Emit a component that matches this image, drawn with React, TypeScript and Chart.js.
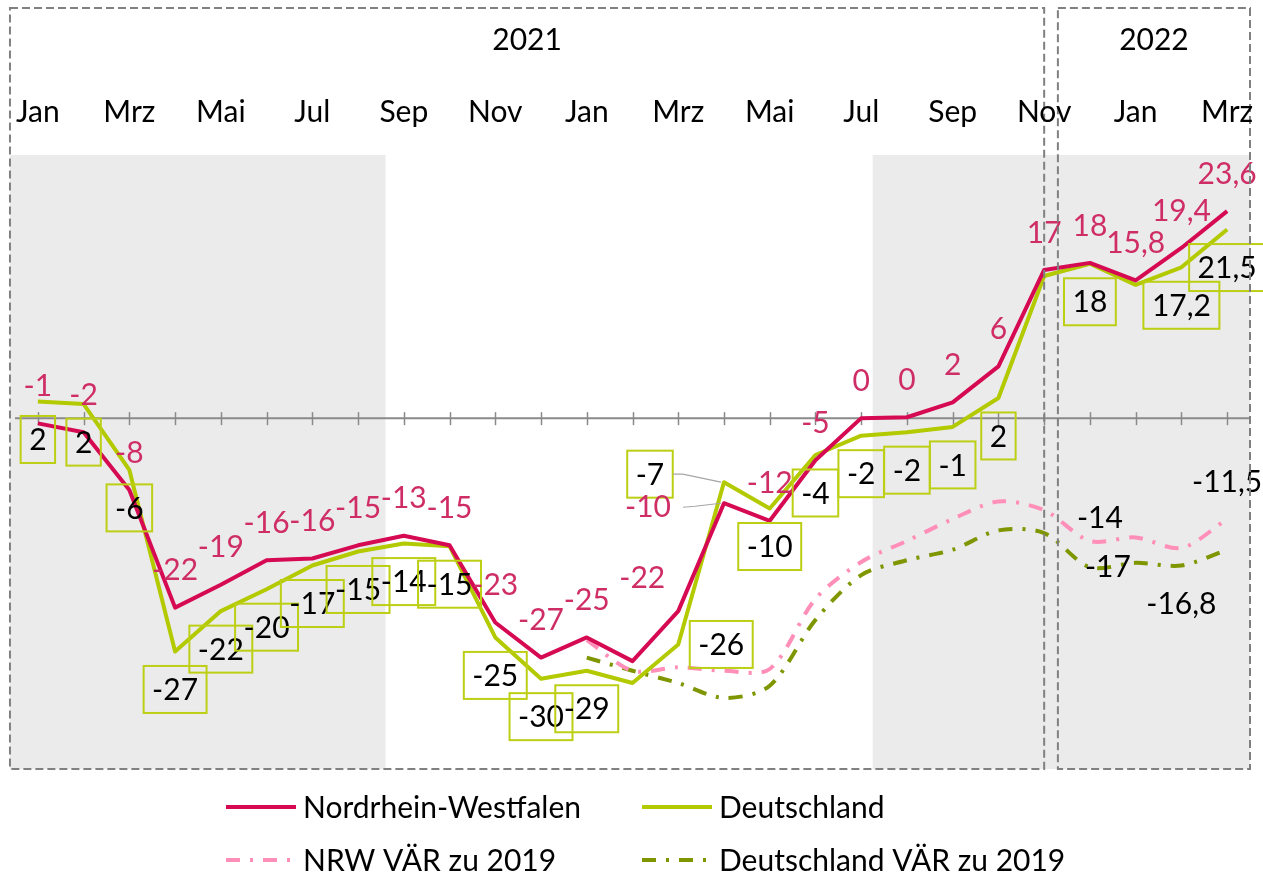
import React, { useEffect, useRef } from "react";
import { Chart, registerables } from "chart.js";

Chart.register(...registerables);

// ---------- data ----------
const months = [
  "Jan", "Feb", "Mrz", "Apr", "Mai", "Jun", "Jul", "Aug", "Sep", "Okt", "Nov", "Dez",
  "Jan", "Feb", "Mrz", "Apr", "Mai", "Jun", "Jul", "Aug", "Sep", "Okt", "Nov", "Dez",
  "Jan", "Feb", "Mrz",
];
const shownMonthTicks = [0, 2, 4, 6, 8, 10, 12, 14, 16, 18, 20, 22, 24, 26];
const years = ["2021", "2022"];

const nrwValues = [
  -0.6, -1.6, -8.2, -21.6, -19.0, -16.2, -16.0, -14.5, -13.4, -14.5, -23.3, -27.3, -25.0,
  -27.7, -22.0, -9.7, -11.7, -4.8, 0.0, 0.1, 1.8, 5.9, 16.9, 17.7, 15.7, 19.4, 23.6,
];
const nrwLabels = [
  "-1", "-2", "-8", "-22", "-19", "-16", "-16", "-15", "-13", "-15", "-23", "-27", "-25",
  null, "-22", "-10", "-12", "-5", "0", "0", "2", "6", "17", "18", "15,8", "19,4", "23,6",
];

const deValues = [
  1.9, 1.6, -5.9, -26.6, -22.0, -19.5, -16.8, -15.2, -14.3, -14.6, -25.0, -29.7, -28.8,
  -30.2, -25.8, -7.3, -10.3, -4.2, -2.0, -1.6, -1.0, 2.3, 16.2, 17.6, 15.2, 17.2, 21.5,
];
const deLabels = [
  "2", "2", "-6", "-27", "-22", "-20", "-17", "-15", "-14", "-15", "-25", "-30", "-29",
  null, "-26", "-7", "-10", "-4", "-2", "-2", "-1", "2", null, "18", null, "17,2", "21,5",
];

const nrwVarValues = [
  null, null, null, null, null, null, null, null, null, null, null, null, -25.3,
  -28.8, -28.4, -28.8, -28.6, -20.6, -16.4, -14.0, -11.5, -9.5, -10.5, -14.0, -13.6, -14.8, -11.5,
];
const nrwVarLabels = [
  null, null, null, null, null, null, null, null, null, null, null, null, null,
  null, null, null, null, null, null, null, null, null, null, "-14", null, null, "-11,5",
];

const deVarValues = [
  null, null, null, null, null, null, null, null, null, null, null, null, -27.3,
  -28.8, -30.2, -31.9, -30.5, -23.0, -17.9, -16.2, -15.0, -12.8, -13.1, -17.0, -16.5, -16.8, -15.0,
];
const deVarLabels = [
  null, null, null, null, null, null, null, null, null, null, null, null, null,
  null, null, null, null, null, null, null, null, null, null, "-17", null, "-16,8", null,
];

const seriesNames = ["Nordrhein-Westfalen", "Deutschland", "NRW VÄR zu 2019", "Deutschland VÄR zu 2019"];

// ---------- styles / layout ----------
const RED = "#d60a52";
const RED_TEXT = "#cf2d66";
const GREEN = "#b3c900";
const GREEN_BOX = "#bccf14";
const PINK = "#ff8fb8";
const OLIVE = "#7f9600";
const FONT = "Lato, 'Open Sans', sans-serif";
const FS = 30;

// label offsets (dx, dy) in px relative to point
const redOffsets: Record<number, [number, number]> = { 14: [-36, -33], 15: [-76, 4] };
const greenOffsets: Record<number, [number, number]> = { 14: [43, 0], 15: [-74, -8] };
const nrwVarOffsets: Record<number, [number, number]> = { 23: [10, -23], 26: [0, -37] };
const deVarOffsets: Record<number, [number, number]> = { 23: [18, 0], 25: [0, 39] };
const leaderIdx = [15];

// decorative bands (in category index units)
const shadeBands: [number, number][] = [[-0.61, 7.6], [18.25, 26.5]];
const yearBoxes: [number, number][] = [[-0.61, 22.0], [22.3, 26.5]];

const deco = {
  id: "deco",
  beforeDatasetsDraw(chart: any) {
    const { ctx, chartArea, scales } = chart;
    const x = scales.x;
    const y = scales.y;
    ctx.save();
    ctx.fillStyle = "#ebebeb";
    for (const [a, b] of shadeBands) {
      const x0 = x.getPixelForValue(a);
      const x1 = x.getPixelForValue(b);
      ctx.fillRect(x0, chartArea.top, x1 - x0, chartArea.bottom - chartArea.top);
    }
    // zero axis
    const y0 = y.getPixelForValue(0);
    ctx.strokeStyle = "#8a8a8a";
    ctx.lineWidth = 2;
    ctx.beginPath();
    ctx.moveTo(chartArea.left, y0);
    ctx.lineTo(chartArea.right, y0);
    ctx.stroke();
    ctx.lineWidth = 1.5;
    for (let i = 0; i < months.length; i++) {
      const px = Math.round(x.getPixelForValue(i)) + 0.5;
      ctx.beginPath();
      ctx.moveTo(px, y0 - 6);
      ctx.lineTo(px, y0 + 7);
      ctx.stroke();
    }
    ctx.restore();
  },
  afterDatasetsDraw(chart: any) {
    const { ctx, chartArea, scales } = chart;
    const x = scales.x;
    const y = scales.y;
    ctx.save();
    ctx.font = `${FS}px ${FONT}`;
    ctx.textAlign = "center";
    ctx.textBaseline = "middle";

    // green (Deutschland) boxed labels
    deLabels.forEach((lab, i) => {
      if (lab == null) return;
      const px = x.getPixelForValue(i);
      const py = y.getPixelForValue(deValues[i]);
      const [dx, dy] = greenOffsets[i] || [0, 38];
      const lx = px + dx;
      const ly = py + dy;
      const w = ctx.measureText(lab).width + 17;
      const h = 47;
      ctx.strokeStyle = GREEN_BOX;
      ctx.lineWidth = 2;
      ctx.strokeRect(lx - w / 2, ly - h / 2, w, h);
      ctx.fillStyle = "#000";
      ctx.fillText(lab, lx, ly + 1);
      if (leaderIdx.includes(i)) {
        ctx.strokeStyle = "#a6a6a6";
        ctx.lineWidth = 1.2;
        ctx.beginPath();
        ctx.moveTo(lx + w / 2, ly);
        ctx.lineTo(lx + w / 2 + 10, ly);
        ctx.lineTo(px - 3, py);
        ctx.stroke();
      }
    });

    // red (NRW) labels
    nrwLabels.forEach((lab, i) => {
      if (lab == null) return;
      const px = x.getPixelForValue(i);
      const py = y.getPixelForValue(nrwValues[i]);
      const [dx, dy] = redOffsets[i] || [0, -37];
      const lx = px + dx;
      const ly = py + dy;
      ctx.fillStyle = RED_TEXT;
      ctx.fillText(lab, lx, ly);
      if (leaderIdx.includes(i)) {
        const w = ctx.measureText(lab).width;
        ctx.strokeStyle = "#a6a6a6";
        ctx.lineWidth = 1.2;
        ctx.beginPath();
        ctx.moveTo(lx + w / 2 + 12, ly);
        ctx.lineTo(lx + w / 2 + 24, ly - 1);
        ctx.lineTo(px - 3, py);
        ctx.stroke();
      }
    });

    // VÄR labels
    const varSets: [typeof nrwVarLabels, typeof nrwVarValues, Record<number, [number, number]>][] = [
      [nrwVarLabels, nrwVarValues, nrwVarOffsets],
      [deVarLabels, deVarValues, deVarOffsets],
    ];
    for (const [labs, vals, offs] of varSets) {
      labs.forEach((lab, i) => {
        if (lab == null || vals[i] == null) return;
        const px = x.getPixelForValue(i);
        const py = y.getPixelForValue(vals[i] as number);
        const [dx, dy] = offs[i] || [0, -37];
        ctx.fillStyle = "#000";
        ctx.fillText(lab, px + dx, py + dy);
      });
    }

    // year boxes (dashed)
    ctx.strokeStyle = "#808080";
    ctx.lineWidth = 2;
    ctx.setLineDash([8, 4]);
    yearBoxes.forEach(([a, b], k) => {
      const x0 = x.getPixelForValue(a);
      const x1 = x.getPixelForValue(b);
      ctx.strokeRect(x0, 8, x1 - x0, chartArea.bottom - 8);
      ctx.fillStyle = "#000";
      ctx.fillText(years[k], (x0 + x1) / 2, 40);
    });
    ctx.setLineDash([]);

    // month labels
    ctx.fillStyle = "#000";
    for (const i of shownMonthTicks) {
      ctx.fillText(months[i], x.getPixelForValue(i), 112);
    }

    // legend
    const legendItems = [
      { name: seriesNames[0], color: RED, dash: [] as number[], col: 0, row: 0 },
      { name: seriesNames[1], color: GREEN, dash: [] as number[], col: 1, row: 0 },
      { name: seriesNames[2], color: PINK, dash: [14, 10, 3, 10], col: 0, row: 1 },
      { name: seriesNames[3], color: OLIVE, dash: [14, 10, 3, 10], col: 1, row: 1 },
    ];
    const colX = [226, 642];
    const rowY = [807, 860];
    ctx.textAlign = "left";
    for (const it of legendItems) {
      const lx = colX[it.col];
      const ly = rowY[it.row];
      ctx.strokeStyle = it.color;
      ctx.lineWidth = 4;
      ctx.setLineDash(it.dash);
      ctx.beginPath();
      ctx.moveTo(lx, ly);
      ctx.lineTo(lx + 70, ly);
      ctx.stroke();
      ctx.setLineDash([]);
      ctx.fillStyle = "#000";
      ctx.fillText(it.name, lx + 77, ly + 1);
    }
    ctx.restore();
  },
};

export default function App() {
  const ref = useRef<HTMLCanvasElement>(null);
  useEffect(() => {
    if (!ref.current) return;
    const chart = new Chart(ref.current, {
      type: "line",
      data: {
        labels: months,
        datasets: [
          { label: seriesNames[0], data: nrwValues, borderColor: RED, borderWidth: 4, tension: 0 },
          { label: seriesNames[1], data: deValues, borderColor: GREEN, borderWidth: 4, tension: 0 },
          {
            label: seriesNames[2], data: nrwVarValues as any, borderColor: PINK, borderWidth: 4,
            borderDash: [14, 10, 3, 10], tension: 0.3,
          },
          {
            label: seriesNames[3], data: deVarValues as any, borderColor: OLIVE, borderWidth: 4,
            borderDash: [14, 10, 3, 10], tension: 0.3,
          },
        ],
      },
      options: {
        responsive: false,
        animation: false,
        devicePixelRatio: 1,
        layout: { padding: { left: 15, right: 13, top: 155, bottom: 108 }, autoPadding: false },
        plugins: { legend: { display: false }, tooltip: { enabled: false } },
        elements: {
          point: { radius: 0, hoverRadius: 0 },
          line: { borderJoinStyle: "round", borderCapStyle: "butt", fill: false },
        },
        scales: {
          x: { display: false, offset: true },
          y: { display: false, min: -40, max: 30 },
        },
      },
      plugins: [deco],
    });
    return () => chart.destroy();
  }, []);
  return (
    <div style={{ position: "fixed", left: 0, top: 0, width: 1263, height: 877, background: "#fff" }}>
      <canvas ref={ref} width={1263} height={877} style={{ display: "block", width: 1263, height: 877 }} />
    </div>
  );
}
